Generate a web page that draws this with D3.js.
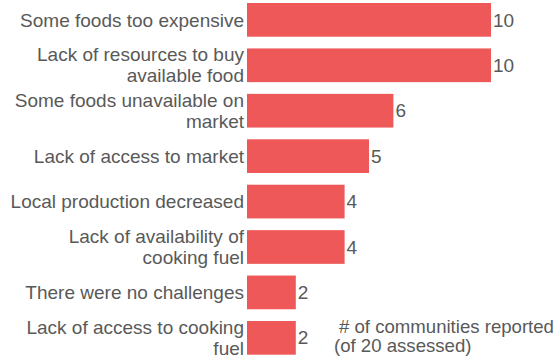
<!DOCTYPE html>
<html><head><meta charset="utf-8">
<script src="https://cdn.jsdelivr.net/npm/d3@7"></script>
<style>body{margin:0;background:#fff}svg{display:block}text{font-family:"Liberation Sans",Arial,sans-serif}</style>
</head><body>
<script>
const categories = [
  ["Some foods too expensive"],
  ["Lack of resources to buy","available food"],
  ["Some foods unavailable on","market"],
  ["Lack of access to market"],
  ["Local production decreased"],
  ["Lack of availability of","cooking fuel"],
  ["There were no challenges"],
  ["Lack of access to cooking","fuel"]
];
const values = [10,10,6,5,4,4,2,2];
const legendLines = ["# of communities reported","(of 20 assessed)"];

const W=557,H=359;
const svg=d3.select("body").append("svg").attr("width",W).attr("height",H);
const keys=categories.map(c=>c.join(" "));
const y=d3.scaleBand().domain(keys).range([3,354.7]).paddingInner(0.258).paddingOuter(0);
const x=d3.scaleLinear().domain([0,10]).range([247,491]);
const fs=19, lh=21, col="#595959";

svg.selectAll("rect.bar").data(values).join("rect").attr("class","bar")
  .attr("x",x(0)).attr("y",(d,i)=>y(keys[i])).attr("width",d=>x(d)-x(0)).attr("height",y.bandwidth())
  .attr("fill","#EF5859");

svg.selectAll("text.val").data(values).join("text").attr("class","val")
  .attr("x",d=>x(d)+2).attr("y",(d,i)=>y(keys[i])+y.bandwidth()/2).attr("dy","0.35em")
  .attr("font-size",fs).attr("fill",col).text(d=>d);

categories.forEach((lines,i)=>{
  const cy=y(keys[i])+y.bandwidth()/2;
  const t=svg.append("text").attr("text-anchor","end").attr("font-size",fs).attr("fill",col);
  lines.forEach((l,j)=>{
    t.append("tspan").attr("x",x(0)-3).attr("y",cy+(j-(lines.length-1)/2)*lh).attr("dy","0.35em").text(l);
  });
});

const lg=svg.append("text").attr("font-size",18.6).attr("fill",col);
legendLines.forEach((l,j)=>{
  lg.append("tspan").attr("x",j===0?339:334).attr("y",333+j*19).text(l);
});
</script>
</body></html>
